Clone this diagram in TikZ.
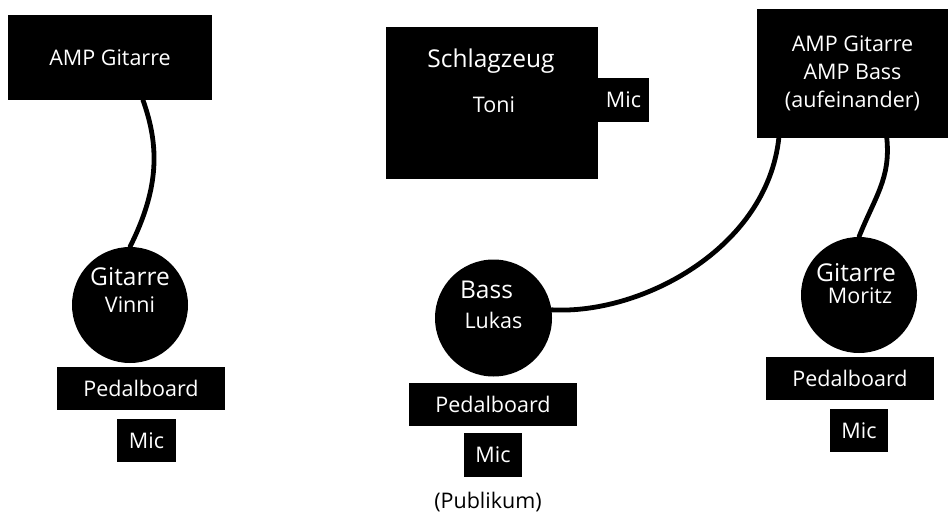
\documentclass[tikz,border=0pt]{standalone}
\usepackage{fontspec}
\setmainfont{Open Sans}
\usetikzlibrary{calc}
\begin{document}
\begin{tikzpicture}[x=1pt,y=-1pt,
  blk/.style={fill=black, draw=none, text=white, inner sep=0pt,
    font=\fontsize{21.5}{28}\selectfont, align=center},
  disc/.style={circle, fill=black, draw=none, inner sep=0pt},
  wtxt/.style={text=white, inner sep=0pt, font=\fontsize{21.5}{24}\selectfont},
  btxt/.style={text=white, inner sep=0pt, font=\fontsize{24.5}{28}\selectfont},
  cable/.style={line width=4.8pt, draw=black, line cap=round}
]
\useasboundingbox (0,0) rectangle (950,516);

% ---------- left group: Vinni ----------
\node[blk, minimum width=204pt, minimum height=85pt] (amp1) at (110,57.5) {AMP Gitarre};
\node[disc, minimum size=116pt] (gv) at (130,305) {};
\node[btxt] (gvT) at ($(gv)+(0,-28)$) {Gitarre};
\node[wtxt] (gvN) at ($(gv)+(0,0)$) {Vinni};
\node[blk, minimum width=168pt, minimum height=43pt] (pb1) at (141,388.5) {Pedalboard};
\node[blk, minimum width=59pt, minimum height=43pt] (mic1) at (146.5,440.5) {Mic};

% ---------- drums ----------
\node[blk, minimum width=212pt, minimum height=152pt] (drums) at (492,103) {};
\node[btxt] (drT) at ($(drums)+(-1,-42)$) {Schlagzeug};
\node[wtxt] (drN) at ($(drums)+(2,2)$) {Toni};
\node[blk, minimum width=51pt, minimum height=44pt] (micD) at (623.5,100) {Mic};

% ---------- right amps ----------
\node[blk, minimum width=191pt, minimum height=129pt] (amp2) at (852.5,73.5)
  {AMP Gitarre\\AMP Bass\\(aufeinander)};

% ---------- Bass: Lukas ----------
\node[disc, minimum size=117pt] (bl) at (493.5,318) {};
\node[btxt] (blT) at ($(bl)+(-7,-28)$) {Bass};
\node[wtxt] (blN) at ($(bl)+(0,2)$) {Lukas};
\node[blk, minimum width=168pt, minimum height=43pt] (pb2) at (493,404.5) {Pedalboard};
\node[blk, minimum width=58pt, minimum height=44pt] (mic2) at (493,455) {Mic};
\node[inner sep=0pt, font=\fontsize{21.5}{24}\selectfont] (pub) at (488,502) {(Publikum)};

% ---------- Gitarre: Moritz ----------
\node[disc, minimum size=116pt] (gm) at (859,295) {};
\node[btxt] (gmT) at ($(gm)+(-3,-22)$) {Gitarre};
\node[wtxt] (gmN) at ($(gm)+(1,1)$) {Moritz};
\node[blk, minimum width=168pt, minimum height=43pt] (pb3) at (850,378.5) {Pedalboard};
\node[blk, minimum width=58pt, minimum height=43pt] (mic3) at (859,430.5) {Mic};

% ---------- cables ----------
\coordinate (c1s) at ($(amp1.south)+(33,0)$);
\draw[cable] (c1s) .. controls ($(c1s)+(16,45)$) and ($(gv.north)+(30,-60)$) .. (gv.north);

\coordinate (c2s) at ($(amp2.south west)+(22,0)$);
\draw[cable] (c2s) .. controls ($(c2s)+(-12,110)$) and ($(bl.8)+(90,5)$) .. (bl.8);

\coordinate (c3s) at ($(amp2.south west)+(130,0)$);
\draw[cable] (c3s) .. controls ($(c3s)+(4,40)$) and ($(gm.north)+(16,-40)$) .. (gm.north);
\end{tikzpicture}
\end{document}
